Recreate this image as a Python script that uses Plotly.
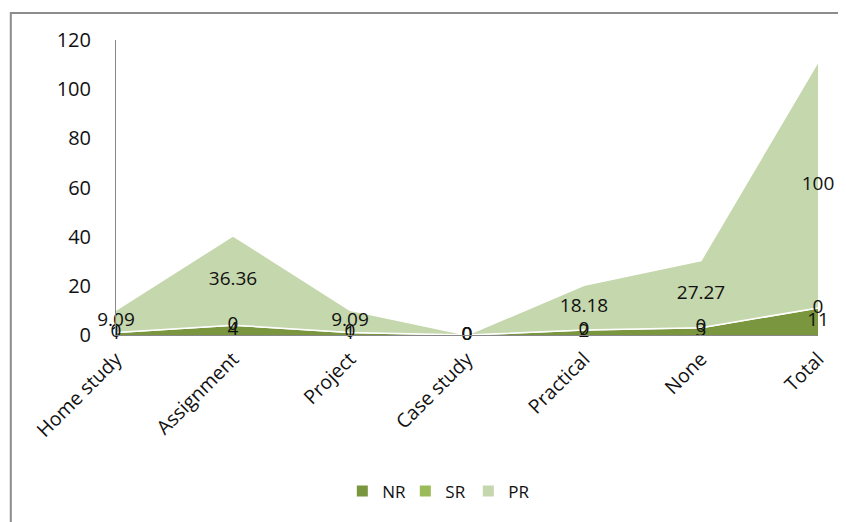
import plotly.graph_objects as go

categories = ["Home study", "Assignment", "Project", "Case study", "Practical", "None", "Total"]
NR = [1, 4, 1, 0, 2, 3, 11]
SR = [0, 0, 0, 0, 0, 0, 0]
PR = [9.09, 36.36, 9.09, 0, 18.18, 27.27, 100]

series = [("NR", NR, "#7a9740"), ("SR", SR, "#9bbb59"), ("PR", PR, "#c5d7ac")]
xs = list(range(len(categories)))

fig = go.Figure()
base = [0] * len(categories)
label_traces = []
for name, vals, col in series:
    fig.add_trace(go.Scatter(
        x=xs, y=vals, name=name, stackgroup="one", mode="lines",
        line=dict(color="white", width=1.5), fillcolor=col,
        hoverinfo="skip", showlegend=False))
    mids = [b + v / 2 for b, v in zip(base, vals)]
    label_traces.append(go.Scatter(
        x=xs, y=mids, mode="text", text=[f"{v:g}" for v in vals],
        textfont=dict(family="Open Sans", size=19, color="#111111"),
        textposition="middle center", showlegend=False, hoverinfo="skip", cliponaxis=False))
    base = [b + v for b, v in zip(base, vals)]

for t in label_traces:
    fig.add_trace(t)

# legend entries with square swatches
for name, vals, col in series:
    fig.add_trace(go.Scatter(
        x=[None], y=[None], mode="markers", name=name,
        marker=dict(symbol="square", size=11, color=col)))

fig.update_layout(
    width=838, height=514,
    margin=dict(l=108, r=28, t=32, b=187),
    paper_bgcolor="white", plot_bgcolor="white",
    font=dict(family="Open Sans", size=19, color="#111111"),
    xaxis=dict(range=[0, 6], tickvals=xs, ticktext=categories, tickangle=-45,
               showgrid=False, zeroline=False, showline=True, linecolor="#888888",
               linewidth=1, ticks="", tickfont=dict(size=19.5), ticklabelstandoff=4),
    yaxis=dict(range=[0, 120], dtick=20, showgrid=False, zeroline=False,
               showline=True, linecolor="#888888", linewidth=1, ticks="",
               ticklabelstandoff=20, tickfont=dict(size=20)),
    legend=dict(orientation="h", x=0.457, xanchor="center", y=-0.53, yanchor="middle",
                font=dict(size=17), itemwidth=30, entrywidth=18, entrywidthmode="pixels",
                traceorder="normal"),
    shapes=[dict(type="rect", xref="paper", yref="paper",
                 x0=-104 / 694, x1=1.2, y0=-1.0, y1=1 + 27 / 295,
                 line=dict(color="#8c8c8c", width=2), fillcolor="rgba(0,0,0,0)", layer="above")],
)

fig.write_html("out.html")
